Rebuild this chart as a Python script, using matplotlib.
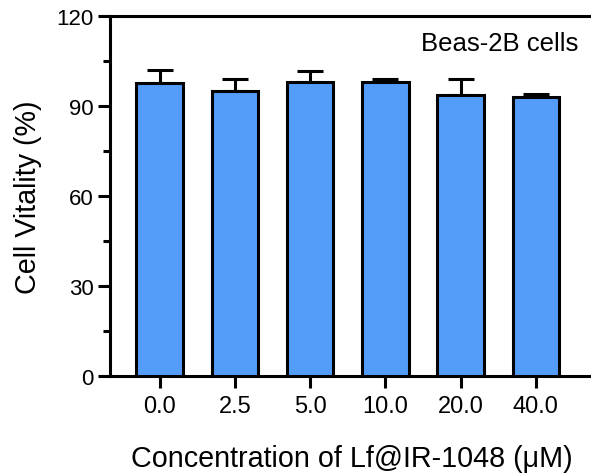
import numpy as np
import matplotlib
matplotlib.use("Agg")
from matplotlib import pyplot as plt
from matplotlib.ticker import MultipleLocator

# data
concentrations = ["0.0", "2.5", "5.0", "10.0", "20.0", "40.0"]
vitality = [97.8, 95.1, 98.2, 97.9, 93.6, 92.9]
vitality_sd = [4.4, 4.1, 3.5, 1.2, 5.5, 1.2]

plt.rcParams['font.family'] = ['Liberation Sans', 'DejaVu Sans']

fig = plt.figure(figsize=(5.91, 4.77), dpi=100)
ax = fig.add_axes([0.186, 0.210, 0.82, 0.754])

x = np.arange(len(concentrations))
lw = 2.2
ax.bar(x, vitality, width=0.62, color='#539DF9', edgecolor='black',
       linewidth=lw, zorder=3)
ax.errorbar(x, vitality, yerr=[np.zeros(len(vitality_sd)), vitality_sd],
            fmt='none', ecolor='black', elinewidth=lw, capsize=9.4,
            capthick=lw, zorder=2)

ax.set_xlim(-0.66, 5.78)
ax.set_ylim(0, 120)
ax.set_xticks(x)
ax.set_xticklabels(concentrations)
ax.yaxis.set_major_locator(MultipleLocator(30))
ax.yaxis.set_minor_locator(MultipleLocator(15))

for side in ['left', 'bottom', 'top', 'right']:
    ax.spines[side].set_linewidth(lw)
ax.spines['right'].set_visible(False)

ax.tick_params(axis='both', which='major', width=lw)
ax.tick_params(axis='x', length=8.6, pad=5, labelsize=17)
ax.tick_params(axis='y', which='major', length=9, pad=2.5, labelsize=16)
ax.tick_params(axis='y', which='minor', length=5, width=lw)

ax.set_xlabel('Concentration of Lf@IR-1048 (\u03bcM)', fontsize=20.7, labelpad=20)
ax.set_ylabel('Cell Vitality (%)', fontsize=20.7)
ax.yaxis.set_label_coords(-0.140, 0.5)

ax.text(0.966, 0.925, 'Beas-2B cells', transform=ax.transAxes,
        ha='right', va='center', fontsize=18.5)

plt.savefig('out.png', dpi=100)
plt.close()
